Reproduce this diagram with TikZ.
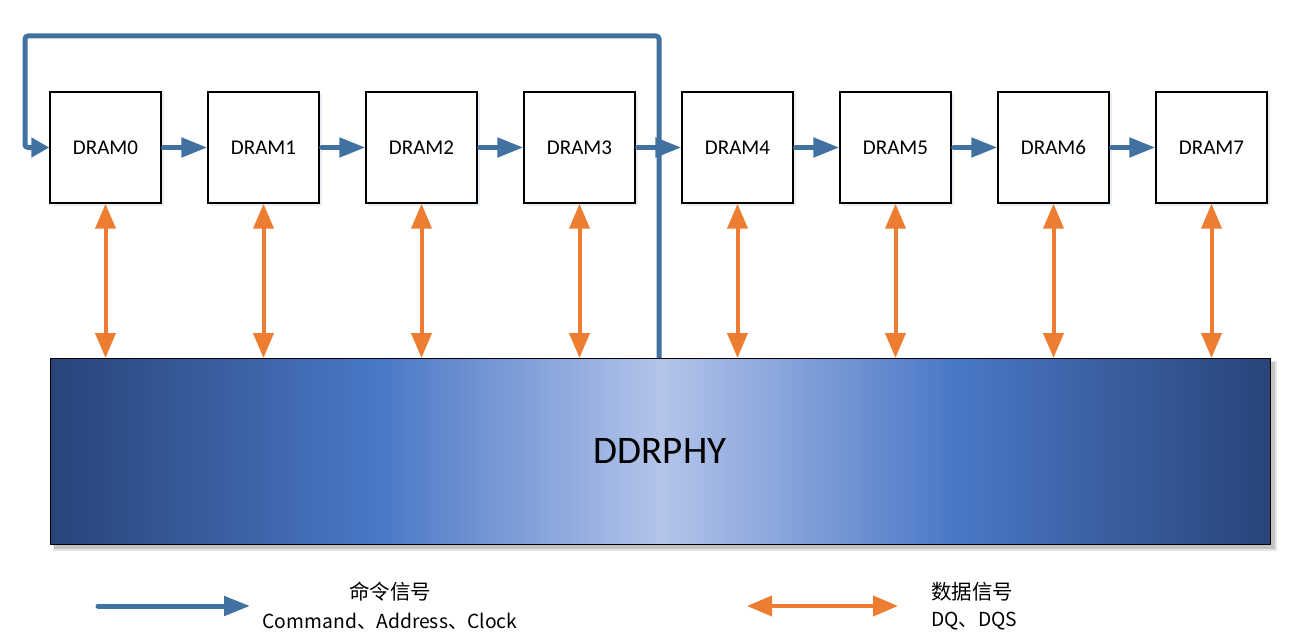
\documentclass[tikz,border=0pt]{standalone}
\usepackage{fontspec}
\setmainfont{Carlito}
\newfontfamily\cjk{Noto Sans CJK SC}
\usetikzlibrary{arrows.meta,calc}
\definecolor{cmdblue}{RGB}{65,113,160}
\definecolor{dataorange}{RGB}{237,125,49}
\definecolor{phyA}{RGB}{40,68,122}
\definecolor{phyB}{RGB}{74,120,198}
\definecolor{phyC}{RGB}{180,196,234}
\pgfdeclarehorizontalshading{physhade}{100bp}{color(0bp)=(phyA); color(25bp)=(phyA); color(38.5bp)=(phyB); color(50bp)=(phyC); color(62bp)=(phyB); color(75bp)=(phyA); color(100bp)=(phyA)}
\tikzset{
  dram/.style={draw=black, line width=1.4pt, fill=white, minimum width=111pt, minimum height=111pt, inner sep=0pt, font=\fontsize{21}{25}\selectfont},
  cmd/.style={draw=cmdblue, line width=5pt, -{Triangle[length=26pt,width=19pt]}, line cap=round},
  data/.style={draw=dataorange, line width=4pt, {Triangle[length=25pt,width=20pt]}-{Triangle[length=25pt,width=20pt]}},
  legcn/.style={font=\cjk\fontsize{20.5}{24}\selectfont, inner sep=0pt},
  legen/.style={font=\cjk\fontsize{19.3}{23}\selectfont, inner sep=0pt}
}
\begin{document}
\begin{tikzpicture}[x=1pt,y=-1pt]
\useasboundingbox (0,0) rectangle (1290,642);
% PHY shadow and box
\fill[black!45, opacity=0.5] (54,362) rectangle (1275,549);
\fill[black!25, opacity=0.4] (53,361) rectangle (1277,551);
\node[draw=black, line width=1.2pt, shading=physhade, minimum width=1220pt, minimum height=186pt, inner sep=0pt, anchor=north west] (phy) at (50,358) {};
\node[font=\fontsize{39}{44}\selectfont] at (660,451) {DDRPHY};
% DRAM boxes
\foreach \i in {0,...,7} {
  \fill[cmdblue!12] (52+158*\i,94) rectangle (164+158*\i,206);
  \node[dram] (d\i) at (105.5+158*\i,147.5) {DRAM\i};
}
% command chain
\coordinate (tapbot) at (659,358);
\coordinate (tapr) at (659,36);
\coordinate (tapl) at (25,36);
\coordinate (tapd) at (25,147.5);
\draw[draw=cmdblue, line width=5pt, rounded corners=3pt, -{Triangle[length=18pt,width=19pt]}] (tapbot) -- (tapr) -- (tapl) -- (tapd) -- (d0.west);
\foreach \i [evaluate=\i as \j using int(\i+1)] in {0,...,6} {
  \draw[cmd] ($(d\i.east)+(2,0)$) -- (d\j.west);
}
% data arrows
\foreach \i in {0,...,7} {
  \draw[data] (d\i.south) -- (d\i.south |- phy.north);
}
% legend
\coordinate (lc1) at (98,606);
\coordinate (lc2) at (250,606);
\draw[cmd] (lc1) -- (lc2);
\node[legcn] (lt1) at (390,592) {命令信号};
\node[legen] (lt2) at (390,621) {Command、Address、Clock};
\coordinate (ld1) at (747,606);
\coordinate (ld2) at (898,606);
\draw[data] (ld1) -- (ld2);
\node[legcn, anchor=west] (lt3) at (931,592) {数据信号};
\node[legen, anchor=west] (lt4) at (931,621) {DQ、DQS};
\end{tikzpicture}
\end{document}
